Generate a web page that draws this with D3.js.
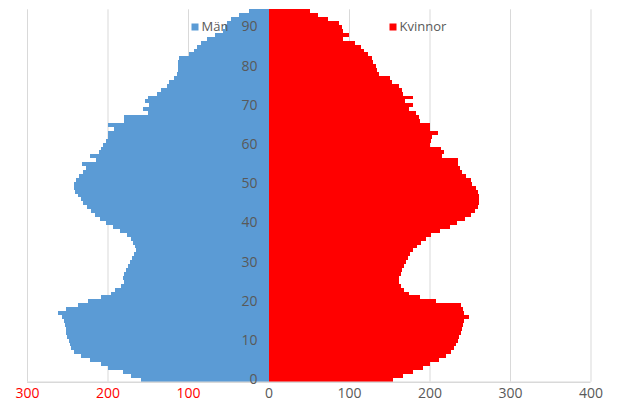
<!DOCTYPE html>
<html>
<head>
<meta charset="utf-8">
<script src="https://cdn.jsdelivr.net/npm/d3@7"></script>
<style>
    body { margin: 0; background: #fff; }
    text { font-family: 'Open Sans', sans-serif; }
</style>
</head>
<body>
<div id="chart"></div>
<script>
// age groups 0..94
let ages = d3.range(0, 95)

let men = [
    158, 171, 181, 199, 208, 222, 233, 241, 245, 247,
    248, 250, 251, 252, 253, 254, 256, 262, 251, 237,
    224, 208, 196, 191, 183, 179, 181, 179, 177, 175,
    172, 169, 167, 165, 166, 168, 171, 176, 184, 193,
    202, 209, 215, 221, 226, 230, 233, 237, 240, 241,
    241, 239, 236, 231, 227, 232, 214, 222, 211, 208,
    205, 202, 199, 199, 192, 199, 179, 179, 150, 156,
    148, 154, 150, 138, 134, 126, 123, 117, 114, 113,
    113, 113, 111, 99, 93, 89, 84, 76, 66, 57,
    54, 51, 47, 37, 24
]

let women = [
    155, 167, 179, 192, 200, 212, 221, 227, 230, 233,
    235, 237, 239, 240, 242, 243, 249, 243, 241, 239,
    208, 188, 174, 168, 164, 162, 162, 164, 166, 168,
    171, 173, 176, 180, 184, 190, 196, 202, 213, 225,
    234, 244, 251, 256, 260, 262, 262, 261, 260, 258,
    253, 251, 245, 240, 238, 236, 235, 215, 218, 214,
    200, 202, 203, 210, 201, 200, 188, 187, 183, 174,
    179, 170, 179, 167, 166, 162, 154, 151, 137, 135,
    133, 130, 128, 123, 119, 115, 107, 93, 100, 93,
    91, 88, 74, 61, 51
]

let xTicks = [-300, -200, -100, 0, 100, 200, 300, 400]
let yTicks = [0, 10, 20, 30, 40, 50, 60, 70, 80, 90]
let seriesNames = ['Män', 'Kvinnor']

let svgWidth = 618
let svgHeight = 405

let plot = {top: 9.3, bottom: 381.7, left: 27, right: 590.5}

let colorMen = '#5b9bd5'
let colorWomen = '#ff0000'
let gridColor = '#d9d9d9'
let textColor = '#595959'

let svg = d3.select('#chart')
    .append('svg')
    .attr('width', svgWidth)
    .attr('height', svgHeight)

let x = d3.scaleLinear()
    .domain([-300, 400])
    .range([plot.left, plot.right])

let y = d3.scaleBand()
    .domain(ages)
    .range([plot.bottom, plot.top])
    .padding(0)

// vertical gridlines
svg.append('g')
    .attr('transform', `translate(0, ${plot.bottom})`)
    .call(d3.axisBottom(x).tickValues(xTicks).tickSize(-(plot.bottom - plot.top)).tickFormat(''))
    .call(g => g.select('.domain').remove())
    .selectAll('line')
    .attr('stroke', gridColor)
    .attr('stroke-width', 1)

// bars
svg.append('g')
    .selectAll('rect')
    .data(ages)
    .enter()
    .append('rect')
    .attr('x', d => x(-men[d]))
    .attr('y', d => y(d))
    .attr('width', d => x(0) - x(-men[d]))
    .attr('height', y.bandwidth())
    .attr('fill', colorMen)
    .attr('shape-rendering', 'crispEdges')

svg.append('g')
    .selectAll('rect')
    .data(ages)
    .enter()
    .append('rect')
    .attr('x', x(0))
    .attr('y', d => y(d))
    .attr('width', d => x(women[d]) - x(0))
    .attr('height', y.bandwidth())
    .attr('fill', colorWomen)
    .attr('shape-rendering', 'crispEdges')

// bottom axis line
svg.append('line')
    .attr('x1', plot.left)
    .attr('x2', plot.right)
    .attr('y1', plot.bottom + 0.5)
    .attr('y2', plot.bottom + 0.5)
    .attr('stroke', gridColor)
    .attr('stroke-width', 1.5)

// x tick labels
let xAxis = svg.append('g')
    .attr('transform', `translate(0, ${plot.bottom})`)
    .call(d3.axisBottom(x).tickValues(xTicks).tickSize(0).tickPadding(6).tickFormat(d => Math.abs(d)))
xAxis.select('.domain').remove()
xAxis.selectAll('text')
    .attr('font-family', "'Open Sans', sans-serif")
    .attr('font-size', 14)
    .attr('fill', d => d < 0 ? '#ff0000' : textColor)

// y tick labels (drawn over the bars)
let yAxis = svg.append('g')
    .attr('transform', `translate(${x(0)}, 0)`)
    .call(d3.axisLeft(y).tickValues(yTicks).tickSize(0).tickPadding(11))
yAxis.select('.domain').remove()
yAxis.selectAll('text')
    .attr('font-family', "'Open Sans', sans-serif")
    .attr('font-size', 14)
    .attr('fill', textColor)

// legend
let legendPos = [191.5, 389.5]
let legendColors = [colorMen, colorWomen]

let legend = svg.append('g')
    .selectAll('g')
    .data(seriesNames)
    .enter()
    .append('g')
    .attr('transform', (d, i) => `translate(${legendPos[i]}, 23.5)`)

legend.append('rect')
    .attr('width', 7)
    .attr('height', 7)
    .attr('fill', (d, i) => legendColors[i])

legend.append('text')
    .attr('x', 10)
    .attr('y', 7.5)
    .attr('font-size', 13)
    .attr('fill', textColor)
    .text(d => d)
</script>
</body>
</html>
